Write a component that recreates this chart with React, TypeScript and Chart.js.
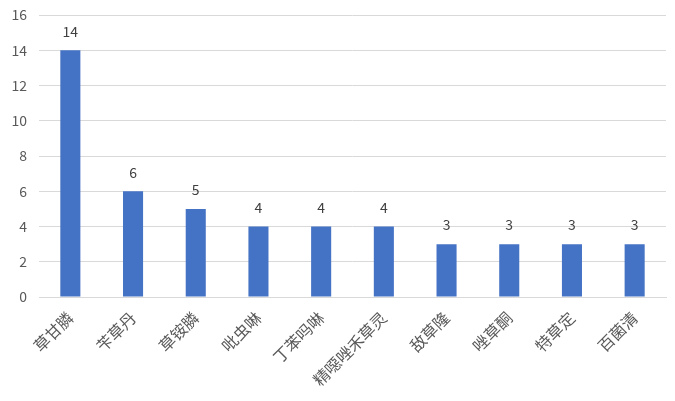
import React, { useEffect, useRef } from 'react';
import { Chart, registerables } from 'chart.js';

Chart.register(...registerables);

const categories = ['草甘膦', '苄草丹', '草铵膦', '吡虫啉', '丁苯吗啉', '精噁唑禾草灵', '敌草隆', '唑草酮', '特草定', '百菌清'];
const counts = [14, 6, 5, 4, 4, 4, 3, 3, 3, 3];
const yTicks = [0, 2, 4, 6, 8, 10, 12, 14, 16];

const FONT = '"Noto Sans CJK SC", "Noto Sans", sans-serif';

// value labels above each bar (no datalabels plugin available)
const valueLabels = {
  id: 'valueLabels',
  afterDatasetsDraw(chart: any) {
    const ctx = chart.ctx;
    const meta = chart.getDatasetMeta(0);
    ctx.save();
    ctx.fillStyle = '#404040';
    ctx.font = `14px ${FONT}`;
    ctx.textAlign = 'center';
    ctx.textBaseline = 'middle';
    meta.data.forEach((bar: any, i: number) => {
      ctx.fillText(String(counts[i]), bar.x, bar.y - 19);
    });
    ctx.restore();
  },
};

const PesticideChart: React.FC = () => {
  const chartRef = useRef<HTMLCanvasElement>(null);
  const chartInstance = useRef<Chart | null>(null);

  useEffect(() => {
    document.body.style.margin = '0';
    if (chartRef.current) {
      const ctx = chartRef.current.getContext('2d');
      if (ctx) {
        if (chartInstance.current) {
          chartInstance.current.destroy();
        }

        chartInstance.current = new Chart(ctx, {
          type: 'bar',
          data: {
            labels: categories,
            datasets: [{
              data: counts,
              backgroundColor: '#4472C4',
              borderWidth: 0,
              barPercentage: 0.32,
              categoryPercentage: 1,
            }]
          },
          options: {
            responsive: false,
            animation: false,
            layout: { autoPadding: false, padding: { top: 15, right: 9, left: 0, bottom: 0 } },
            plugins: {
              legend: { display: false },
              tooltip: { enabled: false },
            },
            scales: {
              x: {
                grid: { display: false },
                border: { display: true, color: '#d9d9d9' },
                ticks: {
                  color: '#595959',
                  font: { family: FONT, size: 16 },
                  maxRotation: 45,
                  minRotation: 45,
                  autoSkip: false,
                  padding: 3,
                },
                afterFit(scale: any) { scale.height = 104; scale.paddingTop = 0; scale.paddingBottom = 0; },
              },
              y: {
                min: 0,
                max: 16,
                afterBuildTicks(scale: any) { scale.ticks = yTicks.map(v => ({ value: v })); },
                grid: { color: '#d9d9d9', drawTicks: false },
                border: { display: false },
                ticks: {
                  color: '#595959',
                  font: { family: FONT, size: 14 },
                  padding: 12,
                },
                afterFit(scale: any) { scale.width = 39; scale.paddingTop = 0; scale.paddingBottom = 0; },
              }
            }
          },
          plugins: [valueLabels],
        });
      }
    }

    return () => {
      if (chartInstance.current) {
        chartInstance.current.destroy();
      }
    };
  }, []);

  return <canvas ref={chartRef} width={675} height={401} style={{ display: 'block', width: '675px', height: '401px' }} />;
};

export default function App() {
  return <PesticideChart />;
}
